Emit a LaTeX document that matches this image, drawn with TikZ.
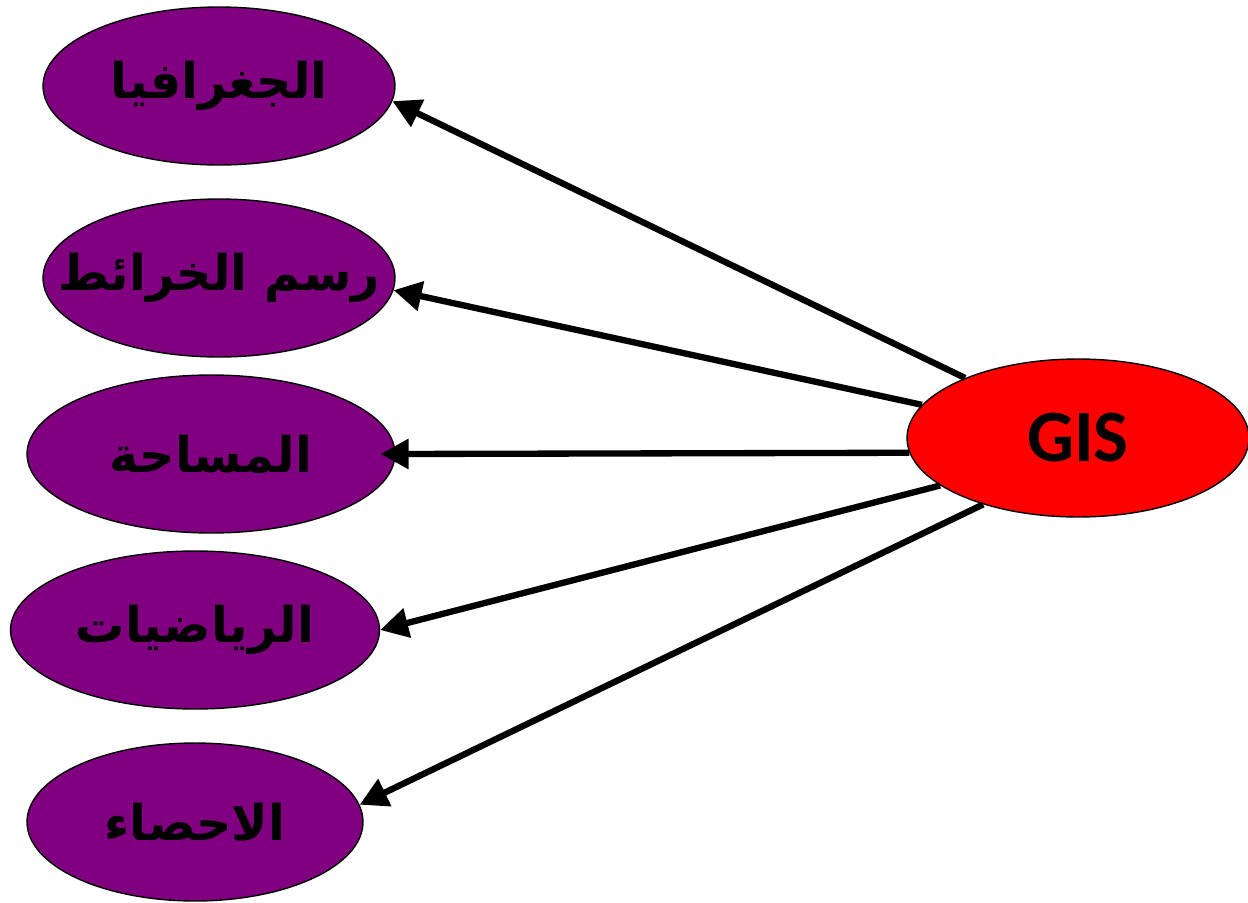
\documentclass[tikz,border=0pt]{standalone}
\usepackage{fontspec}
\usepackage{xcolor}
\usetikzlibrary{arrows.meta, shapes.geometric}
\TeXXeTstate=1
\newfontfamily\arabicfont[Script=Arabic]{DejaVu Sans}
\newfontfamily\gisfont{Carlito}
\definecolor{topicpurple}{HTML}{800080}
\definecolor{gisred}{HTML}{FF0000}
\newcommand{\subj}[1]{\makebox[0pt]{\beginR #1\endR}} % keeps the oval size fixed
\tikzset{
    topic/.style={ellipse, draw=black, line width=0.8pt, fill=topicpurple, inner sep=0pt, minimum width=7.04cm, minimum height=3.16cm, font=\arabicfont\bfseries\fontsize{28}{32}\selectfont}, % purple subject ovals
    core/.style={ellipse, draw=black, line width=0.8pt, fill=gisred, inner sep=0pt, minimum width=6.84cm, minimum height=3.16cm, font=\gisfont\bfseries\fontsize{42}{46}\selectfont}, % the red GIS oval
}
\tikzstyle{arrow} = [line width=3.6pt, -{Triangle[length=0.56cm, width=0.58cm]}]

\begin{document}
\begin{tikzpicture}[x=0.02cm, y=-0.02cm]
    \useasboundingbox (0,0) rectangle (1248,903);
    % subjects
    \node[topic] (geo) at (219,86) {\subj{الجغرافيا}};
    \node[topic] (carto) at (219,278) {\subj{رسم الخرائط}};
    \node[topic, minimum width=7.36cm] (survey) at (211,454) {\subj{المساحة}};
    \node[topic, minimum width=7.38cm] (math) at (195,630) {\subj{الرياضيات}};
    \node[topic, minimum width=6.72cm] (stats) at (195,822) {\subj{الاحصاء}};
    % GIS
    \node[core] (gis) at (1078,438) {GIS};
    % links
    \draw[arrow] (gis.152) -- (geo.355);
    \draw[arrow] (gis.168) -- (carto.356);
    \draw[arrow, shorten >=-0.3cm] (gis.185) -- (survey.east);
    \draw[arrow] (gis.199) -- (math.east);
    \draw[arrow] (gis.215) -- (stats.6);
\end{tikzpicture}
\end{document}
